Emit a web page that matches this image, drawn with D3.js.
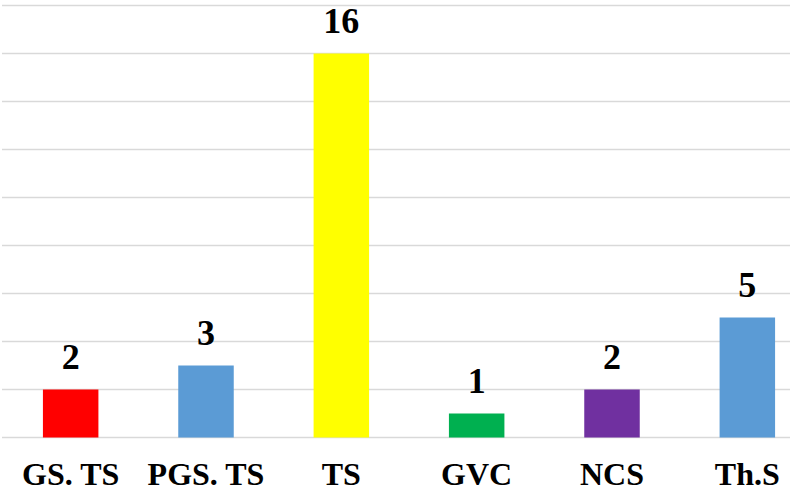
<!DOCTYPE html>
<html>
<head>
<meta charset="utf-8">
<script src="https://cdn.jsdelivr.net/npm/d3@7"></script>
<style>
  body { margin: 0; background: #fff; }
  svg { display: block; }
</style>
</head>
<body>
<svg id="chart"></svg>
<script>
const categories = ["GS. TS", "PGS. TS", "TS", "GVC", "NCS", "Th.S"];
const values = [2, 3, 16, 1, 2, 5];
const colors = ["#FF0000", "#5B9BD5", "#FFFF00", "#00B050", "#7030A0", "#5B9BD5"];
const gridTicks = [0, 2, 4, 6, 8, 10, 12, 14, 16, 18];

const width = 790, height = 491;
const margin = {top: 5.5, right: -25, bottom: 53.5, left: 3};
const fontFam = "'Liberation Serif', 'Times New Roman', serif";

const svg = d3.select("#chart")
    .attr("width", width)
    .attr("height", height);

const x = d3.scaleBand()
    .domain(categories)
    .range([margin.left, width - margin.right])
    .paddingInner(0.59)
    .paddingOuter(0.295);

const y = d3.scaleLinear()
    .domain([0, 18])
    .range([height - margin.bottom, margin.top]);

// gridlines
svg.append("g")
    .selectAll("line")
    .data(gridTicks)
    .enter()
    .append("line")
    .attr("x1", 2)
    .attr("x2", width)
    .attr("y1", d => y(d))
    .attr("y2", d => y(d))
    .attr("stroke", "#D9D9D9")
    .attr("stroke-width", 1.5);

// bars
svg.append("g")
    .selectAll("rect")
    .data(values)
    .enter()
    .append("rect")
    .attr("x", (d, i) => x(categories[i]))
    .attr("y", d => y(d))
    .attr("width", x.bandwidth())
    .attr("height", d => y(0) - y(d))
    .attr("fill", (d, i) => colors[i]);

// value labels
svg.append("g")
    .selectAll("text")
    .data(values)
    .enter()
    .append("text")
    .attr("x", (d, i) => x(categories[i]) + x.bandwidth() / 2)
    .attr("y", d => y(d) - 21)
    .attr("text-anchor", "middle")
    .attr("font-family", fontFam)
    .attr("font-weight", "bold")
    .attr("font-size", 36)
    .text(d => d);

// category axis
const xAxis = svg.append("g")
    .attr("transform", "translate(0," + y(0) + ")")
    .call(d3.axisBottom(x).tickSize(0).tickPadding(0))
    .attr("font-family", fontFam)
    .attr("font-size", 32);
xAxis.select(".domain").remove();
xAxis.selectAll("text")
    .attr("dy", null)
    .attr("y", 47)
    .attr("font-weight", "bold")
    .attr("fill", "#000");
</script>
</body>
</html>
